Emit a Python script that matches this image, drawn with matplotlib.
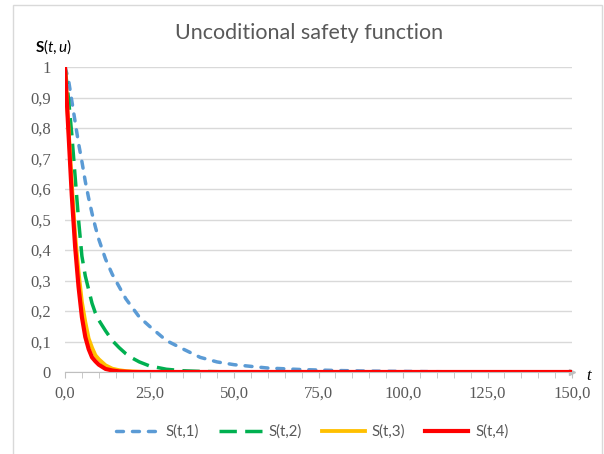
import matplotlib
matplotlib.use("Agg")
import matplotlib.pyplot as plt
from matplotlib.patches import Rectangle

# time grid and values
t = [0, 1, 2, 3, 4, 5, 6, 7, 8, 9, 10, 12, 14, 16, 18, 20, 22, 25,
     30, 35, 40, 45, 50, 60, 70, 80, 90, 100, 110, 120, 130, 140, 150]

s1 = [1.0, 0.96, 0.89, 0.82, 0.75, 0.69, 0.625, 0.57, 0.52, 0.475, 0.435,
      0.37, 0.32, 0.28, 0.24, 0.21, 0.18, 0.15, 0.103, 0.075, 0.048, 0.033,
      0.024, 0.013, 0.008, 0.005, 0.003, 0.002, 0.001, 0.0, 0.0, 0.0, 0.0]
s2 = [1.0, 0.9, 0.78, 0.64, 0.5, 0.38, 0.315, 0.27, 0.225, 0.193, 0.17,
      0.135, 0.103, 0.08, 0.06, 0.045, 0.033, 0.02, 0.009, 0.004, 0.002,
      0.001, 0.0, 0.0, 0.0, 0.0, 0.0, 0.0, 0.0, 0.0, 0.0, 0.0, 0.0]
s3 = [1.0, 0.81, 0.62, 0.45, 0.33, 0.23, 0.165, 0.11, 0.08, 0.055, 0.042,
      0.022, 0.011, 0.006, 0.003, 0.002, 0.001, 0.0, 0.0, 0.0, 0.0, 0.0,
      0.0, 0.0, 0.0, 0.0, 0.0, 0.0, 0.0, 0.0, 0.0, 0.0, 0.0]
s4 = [1.0, 0.79, 0.58, 0.41, 0.28, 0.18, 0.115, 0.075, 0.048, 0.035, 0.024,
      0.01, 0.005, 0.002, 0.001, 0.0, 0.0, 0.0, 0.0, 0.0, 0.0, 0.0,
      0.0, 0.0, 0.0, 0.0, 0.0, 0.0, 0.0, 0.0, 0.0, 0.0, 0.0]

names = ["S(t,1)", "S(t,2)", "S(t,3)", "S(t,4)"]
y_ticks = [0, 0.1, 0.2, 0.3, 0.4, 0.5, 0.6, 0.7, 0.8, 0.9, 1]
y_labels = ["0", "0,1", "0,2", "0,3", "0,4", "0,5", "0,6", "0,7", "0,8", "0,9", "1"]
x_ticks = [0, 25, 50, 75, 100, 125, 150]
x_labels = ["0,0", "25,0", "50,0", "75,0", "100,0", "125,0", "150,0"]

plt.rcParams["mathtext.fontset"] = "custom"
plt.rcParams["mathtext.rm"] = "Lato"
plt.rcParams["mathtext.it"] = "Lato:italic"
plt.rcParams["mathtext.bf"] = "Lato:bold"

grey = "#595959"
fig = plt.figure(figsize=(6.04, 4.54), dpi=100)
fig.patches.append(Rectangle((13 / 604, -0.01), 589 / 604, 1 - 5 / 454 + 0.01,
                             transform=fig.transFigure, fill=False,
                             edgecolor="#d9d9d9", lw=1))

ax = fig.add_axes([65 / 604, 82 / 454, 507 / 604, 305 / 454])

ax.plot(t, s1, color="#5b9bd5", lw=2.5, dashes=(2.0, 2.6),
        dash_capstyle="round", label=names[0])
ax.plot(t, s2, color="#00b050", lw=2.5, dashes=(5.0, 2.4), label=names[1])
ax.plot(t, s3, color="#ffc000", lw=2.75, label=names[2])
ax.plot(t, s4, color="#ff0000", lw=3.0, label=names[3])

ax.set_xlim(0, 150)
ax.set_ylim(0, 1)
for side in ["top", "right", "left"]:
    ax.spines[side].set_visible(False)
ax.spines["bottom"].set_color("#bfbfbf")
ax.plot(1, 0, ">", color="#bfbfbf", ms=5, transform=ax.transAxes,
        clip_on=False, zorder=1)

ax.set_yticks(y_ticks)
ax.set_yticklabels(y_labels)
ax.set_xticks(x_ticks)
ax.set_xticklabels(x_labels)
ax.set_xticks(range(0, 151, 5), minor=True)
ax.tick_params(axis="y", length=0, pad=10, labelsize=12, labelcolor=grey)
ax.tick_params(axis="x", which="both", length=4, color="#bfbfbf",
               labelsize=12, labelcolor=grey, pad=6)
for lab in ax.get_xticklabels() + ax.get_yticklabels():
    lab.set_family("Liberation Serif")
ax.grid(axis="y", color="#d9d9d9", lw=1)
ax.set_axisbelow(True)

fig.text(309 / 604, 1 - 33 / 454, "Uncoditional safety function",
         ha="center", va="center", fontsize=15.5, color=grey, family="Lato")
fig.text(35 / 604, 1 - 47 / 454, r"$\mathbf{S}(\mathit{t},\mathit{u})$",
         ha="left", va="center", fontsize=11, color="black")
fig.text(589 / 604, 1 - 376 / 454, "t", ha="center", va="center",
         fontsize=12, style="italic", family="Liberation Serif", color="black")

leg = fig.legend(loc="center", bbox_to_anchor=(312 / 604, 1 - 432 / 454),
                 ncol=4, frameon=False, handlelength=2.9, handletextpad=0.45,
                 columnspacing=1.3, prop={"family": "Lato", "size": 10.8})
for txt in leg.get_texts():
    txt.set_color(grey)

fig.savefig("out.png", dpi=100)
